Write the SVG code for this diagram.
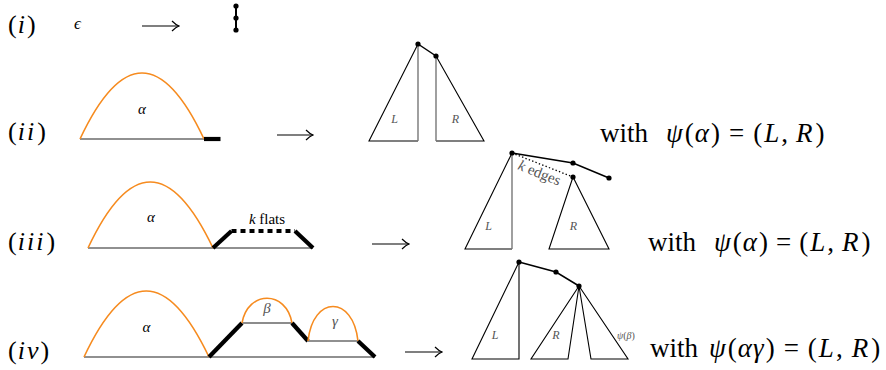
<svg xmlns="http://www.w3.org/2000/svg" width="886" height="370" viewBox="0 0 886 370" font-family="Liberation Serif, DejaVu Serif, serif">
<style>
text{font-family:'Liberation Serif','DejaVu Serif',serif;fill:#000}
.big{font-size:26px}
.eq{font-size:27px}
.it{font-style:italic}
.lbl{font-size:12px;font-style:italic;fill:#555}
.gr{font-size:15px;font-style:italic}
.arc{fill:none;stroke:#f68b1f;stroke-width:1.6}
.base{fill:none;stroke:#222;stroke-width:1.2}
.thick{fill:none;stroke:#000;stroke-width:4.2}
.tri{fill:none;stroke:#000;stroke-width:1.1;stroke-linejoin:miter}
.vert{fill:none;stroke:#777;stroke-width:1.4}
.edge{fill:none;stroke:#000;stroke-width:1.5}
.dot{fill:#000}
.arrow{fill:none;stroke:#000;stroke-width:1.1}
</style>
<defs>
<marker id="arr" markerUnits="userSpaceOnUse" viewBox="-8 -6 9 12" refX="0" refY="0" markerWidth="9" markerHeight="12" orient="auto">
<path d="M-7,-5 Q-3,-1 0,0 Q-3,1 -7,5" fill="none" stroke="#000" stroke-width="1.2"/>
</marker>
</defs>

<!-- row labels -->
<g id="labels">
<text class="big" x="8" y="33">(<tspan class="it" dx="1">i</tspan><tspan dx="2">)</tspan></text>
<text class="big" x="8" y="140">(<tspan class="it" dx="1">i</tspan><tspan class="it" dx="2">i</tspan><tspan dx="3">)</tspan></text>
<text class="big" x="8" y="250">(<tspan class="it" dx="1">i</tspan><tspan class="it" dx="2">i</tspan><tspan class="it" dx="2">i</tspan><tspan dx="3">)</tspan></text>
<text class="big" x="8" y="359">(<tspan class="it" dx="1">i</tspan><tspan class="it" dx="2">v</tspan><tspan dx="2">)</tspan></text>
</g>

<!-- row i -->
<g id="row1-left">
<text x="74" y="29" style="font-size:17px;font-style:italic">ϵ</text>
</g>
<g id="row1-right">
<line x1="236" y1="6" x2="236" y2="30" stroke="#000" stroke-width="2"/>
<circle class="dot" cx="236" cy="6" r="2.6"/>
<circle class="dot" cx="236" cy="18" r="2.6"/>
<circle class="dot" cx="236" cy="30" r="2.6"/>
</g>

<!-- row ii -->
<g id="row2-path">
<line class="base" x1="80" y1="139" x2="204" y2="139"/>
<path class="arc" d="M80,139 Q142,7 204,139"/>
<line class="thick" x1="204" y1="139" x2="220.5" y2="139"/>
<text class="gr" x="142" y="114" text-anchor="middle">α</text>
</g>
<g id="row2-tree">
<path class="tri" d="M418,44 L369,141 L418,141"/>
<line class="vert" x1="418" y1="44" x2="418" y2="141"/>
<path class="tri" d="M436,56 L484,141 L436,141"/>
<line class="vert" x1="436" y1="56" x2="436" y2="141"/>
<line class="edge" x1="418" y1="44" x2="436" y2="56"/>
<circle class="dot" cx="418" cy="44" r="2.6"/>
<circle class="dot" cx="436" cy="56" r="2.6"/>
<text class="lbl" x="394.5" y="123" text-anchor="middle">L</text>
<text class="lbl" x="455.5" y="123" text-anchor="middle">R</text>
</g>
<g id="row2-eq">
<text class="eq" x="600" y="142">with<tspan class="it" dx="18">ψ</tspan><tspan dx="2">(</tspan><tspan class="it" dx="1">α</tspan><tspan dx="2">)</tspan><tspan dx="9">=</tspan><tspan dx="9">(</tspan><tspan class="it" dx="2">L</tspan><tspan dx="2">,</tspan><tspan class="it" dx="8">R</tspan><tspan dx="3">)</tspan></text>
</g>

<!-- row iii -->
<g id="row3-path">
<line class="base" x1="88" y1="248" x2="313" y2="248"/>
<path class="arc" d="M88,248 Q150,116 213,248"/>
<polyline class="thick" points="213,248 231.5,231"/>
<line class="thick" x1="231.5" y1="231" x2="295" y2="231" stroke-dasharray="5 4"/>
<polyline class="thick" points="295,231 313,248"/>
<text class="gr" x="151" y="222" text-anchor="middle">α</text>
<text x="267" y="223.5" text-anchor="middle" style="font-size:15px"><tspan class="it">k</tspan> flats</text>
</g>
<g id="row3-tree">
<path class="tri" d="M512,153 L465,249 L512,249"/>
<line class="vert" x1="512" y1="153" x2="512" y2="249"/>
<path class="tri" d="M573,177 L549,249 L609,249 Z"/>
<polyline class="edge" points="512,153 573,163 609,178"/>
<line x1="512" y1="153" x2="573" y2="177" stroke="#000" stroke-width="1.3" stroke-dasharray="1.4 2.2"/>
<circle class="dot" cx="512" cy="153" r="2.6"/>
<circle class="dot" cx="573" cy="163" r="2.6"/>
<circle class="dot" cx="609" cy="178" r="2.6"/>
<circle class="dot" cx="573" cy="177" r="2.6"/>
<text x="517" y="169" transform="rotate(22 517 169)" style="font-size:15px;fill:#555"><tspan class="it">k</tspan> edges</text>
<text class="lbl" x="488.5" y="229.5" text-anchor="middle">L</text>
<text class="lbl" x="573.5" y="229.5" text-anchor="middle">R</text>
</g>
<g id="row3-eq">
<text class="eq" x="648" y="251">with<tspan class="it" dx="18">ψ</tspan><tspan dx="2">(</tspan><tspan class="it" dx="1">α</tspan><tspan dx="2">)</tspan><tspan dx="8">=</tspan><tspan dx="8">(</tspan><tspan class="it" dx="2">L</tspan><tspan dx="2">,</tspan><tspan class="it" dx="8">R</tspan><tspan dx="3">)</tspan></text>
</g>

<!-- row iv -->
<g id="row4-path">
<line class="base" x1="84" y1="357" x2="375" y2="357"/>
<path class="arc" d="M84,357 Q146,225 209,357"/>
<line class="thick" x1="209" y1="357" x2="242" y2="323"/>
<line x1="242" y1="323" x2="292" y2="323" stroke="#666" stroke-width="1.3"/>
<path class="arc" d="M242,323 C248,290 286,290 292,323"/>
<line class="thick" x1="292" y1="323" x2="308" y2="341"/>
<line class="base" x1="308" y1="341" x2="358" y2="341"/>
<path class="arc" d="M308,341 C313,295 353,295 358,341"/>
<line class="thick" x1="358" y1="341" x2="375" y2="357"/>
<text class="gr" x="146.5" y="332" text-anchor="middle">α</text>
<text class="gr" x="267" y="313" text-anchor="middle" style="fill:#555">β</text>
<text class="gr" x="335" y="326" text-anchor="middle" style="fill:#555">γ</text>
</g>
<g id="row4-tree">
<path class="tri" d="M519,262 L472,359 L519,359 Z"/>
<path class="tri" d="M579,286 L531,359 L568,359 Z"/>
<path class="tri" d="M579,286 L591,359 L628,359 Z"/>
<polyline class="edge" points="519,262 556,272 579,286"/>
<circle class="dot" cx="519" cy="262" r="2.6"/>
<circle class="dot" cx="556" cy="272" r="2.6"/>
<circle class="dot" cx="579" cy="286" r="2.6"/>
<text class="lbl" x="495" y="339" text-anchor="middle">L</text>
<text class="lbl" x="556" y="339" text-anchor="middle">R</text>
<text x="617" y="339" style="font-size:10px;fill:#555"><tspan class="it">ψ</tspan>(<tspan class="it">β</tspan>)</text>
</g>
<g id="row4-eq">
<text class="eq" x="650" y="357">with<tspan class="it" dx="11">ψ</tspan><tspan dx="2">(</tspan><tspan class="it" dx="1">α</tspan><tspan class="it" dx="1">γ</tspan><tspan dx="2">)</tspan><tspan dx="9">=</tspan><tspan dx="9">(</tspan><tspan class="it" dx="2">L</tspan><tspan dx="2">,</tspan><tspan class="it" dx="9">R</tspan><tspan dx="3">)</tspan></text>
</g>

<!-- maps-to arrows -->
<g id="connectors">
<line class="arrow" x1="142" y1="26" x2="179" y2="26" marker-end="url(#arr)"/>
<line class="arrow" x1="277" y1="135" x2="313" y2="135" marker-end="url(#arr)"/>
<line class="arrow" x1="372" y1="244" x2="409" y2="244" marker-end="url(#arr)"/>
<line class="arrow" x1="405" y1="352" x2="442" y2="352" marker-end="url(#arr)"/>
</g>
</svg>
